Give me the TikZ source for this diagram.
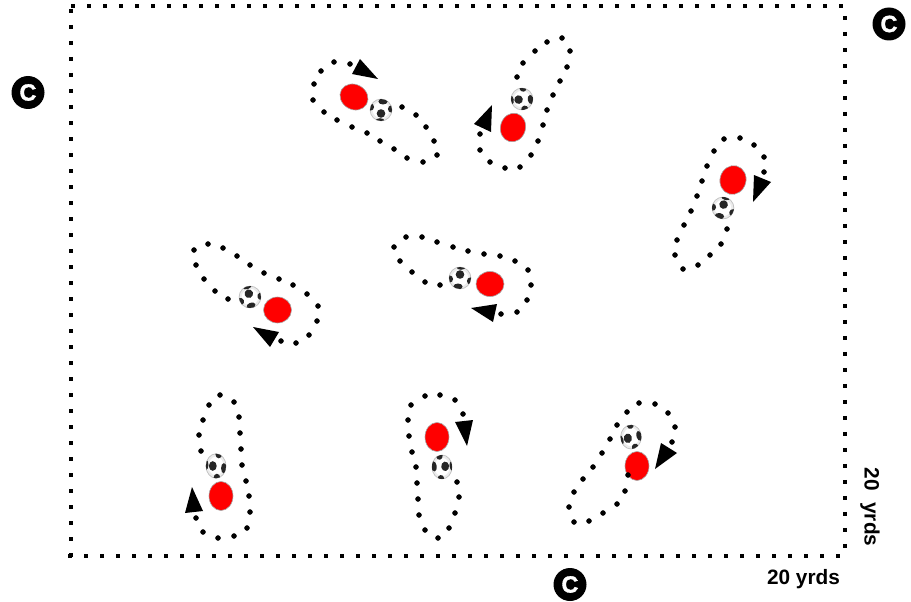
\documentclass[tikz,border=0pt]{standalone}
\usepackage{fontspec}
\setmainfont{Liberation Sans}
\usetikzlibrary{shapes.geometric}
\tikzset{
  fielddots/.style={line width=4pt, dash pattern=on 4pt off 12pt},
  rundots/.style={only marks, mark=*, mark size=2.5pt, mark options={fill=black, draw=none}},
  player/.style={draw=gray!70, line width=0.6pt, fill=red, ellipse, inner sep=0pt},
  coach/.style={circle, fill=black, text=white, minimum size=33pt, inner sep=0pt, font=\bfseries\fontsize{23.5}{24}\selectfont\addfontfeatures{FakeBold=1.5}},
  yards/.style={font=\bfseries\fontsize{20.8}{21}\selectfont, inner sep=0pt},
  soccerball/.pic={
    \fill[white] (0,0) circle (11);
    \draw[gray!15, line width=2.4pt] (0,0) circle (9.6);
    \draw[gray!50, line width=0.7pt] (0,0) circle (10.9);
    \begin{scope}[rotate=#1]
      \clip (0,0) circle (11);
      \fill[black!85] (0,3.5) circle (4.3);
      \fill[black!85] (2,-8.5) ellipse (4.6 and 3);
      \fill[black!85] (-10.5,-3) circle (3.6);
      \fill[black!85] (10.5,-1) circle (3.6);
      \fill[black!85] (-1,11) ellipse (4.6 and 2.8);
    \end{scope}
  }
}
\begin{document}
\begin{tikzpicture}[x=1pt, y=-1pt]
  \useasboundingbox (0,0) rectangle (911,602);

  % field
  \draw[fielddots] (71,5.8) -- (843,5.8);
  \draw[fielddots] (71,9) -- (71,558);
  \draw[fielddots] (68,555.8) -- (840,555.8);
  \draw[fielddots] (844.6,15.8) -- (844.6,548);

  % coaches
  \node[coach] (coachA) at (28,92.5) {C};
  \node[coach] (coachB) at (889,24) {C};
  \node[coach] (coachC) at (570,584.5) {C};

  % distances
  \node[yards] (widthlabel) at (803.5,579) {20 yrds};
  \node[yards, rotate=-90] (heightlabel) at (870,507) {20\ \ yrds};

  % players
  \node[player, minimum width=29pt, minimum height=25pt, rotate=-30] (playerA) at (354,97) {};
  \node[player, minimum width=25pt, minimum height=29pt, rotate=-15] (playerB) at (513,127.5) {};
  \node[player, minimum width=26pt, minimum height=29pt, rotate=-15] (playerC) at (733,180) {};
  \node[player, minimum width=28pt, minimum height=26pt] (playerD) at (277.5,310) {};
  \node[player, minimum width=28pt, minimum height=25pt] (playerE) at (490,284) {};
  \node[player, minimum width=24pt, minimum height=29pt] (playerF) at (221,496) {};
  \node[player, minimum width=24pt, minimum height=29pt] (playerG) at (437,437) {};
  \node[player, minimum width=24pt, minimum height=29pt] (playerH) at (637,466) {};

  % balls
  \pic (ballA) at (381,110) {soccerball=0};
  \pic (ballB) at (522,99) {soccerball=-80};
  \pic (ballC) at (723,208) {soccerball=170};
  \pic (ballD) at (250,297) {soccerball=200};
  \pic (ballE) at (460,278) {soccerball=180};
  \pic[xscale=0.92, yscale=1.12] (ballF) at (216,466) {soccerball=-90};
  \pic[xscale=0.92, yscale=1.1] (ballG) at (442,467) {soccerball=100};
  \pic[xscale=0.95, yscale=1.1] (ballH) at (631,437) {soccerball=-70};

  % runs
  \draw[rundots] plot coordinates {(350,64) (334,62) (321,71) (314,84) (313,100) (324,112) (337,120) (352,127) (367,133) (380,141) (394,149) (407,158) (423,162) (437,155) (434,141) (426,127) (416,115) (402,107)};
  \draw[rundots] plot coordinates {(517,77) (523,63) (535,51) (547,42) (562,38) (570,51) (567,67) (560,81) (553,95) (547,110) (543,125) (538,141) (531,155) (520,167) (505,168) (490,162) (480,150) (480,134)};
  \draw[rundots] plot coordinates {(764,172) (764,157) (754,145) (740,138) (724,139) (714,151) (707,166) (702,181) (697,196) (691,211) (684,225) (677,240) (675,255) (683,269) (698,265) (710,255) (721,244) (727,229)};
  \draw[rundots] plot coordinates {(228,299) (215,291) (204,279) (196,265) (194,250) (208,244) (223,248) (237,256) (250,265) (264,273) (279,279) (293,285) (307,294) (318,306) (317,321) (309,335) (296,343) (281,341)};
  \draw[rundots] plot coordinates {(440,285) (425,282) (412,272) (400,261) (394,247) (406,237) (422,237) (437,242) (453,247) (468,251) (484,254) (500,256) (515,261) (528,270) (531,285) (527,300) (517,312) (501,314)};
  \draw[rundots] plot coordinates {(201,451) (199,435) (203,420) (209,405) (220,395) (234,402) (239,417) (240,433) (241,449) (242,465) (246,481) (249,496) (250,512) (247,528) (234,536) (218,538) (203,532) (196,518)};
  \draw[rundots] plot coordinates {(463,414) (455,400) (440,395) (425,396) (411,405) (408,420) (409,436) (412,452) (416,467) (417,483) (418,499) (419,515) (425,530) (438,538) (449,528) (455,513) (459,497) (457,482)};
  \draw[rundots] plot coordinates {(672,442) (675,427) (668,413) (655,404) (639,403) (627,412) (617,425) (610,439) (602,453) (593,467) (583,479) (574,492) (569,507) (574,522) (589,521) (603,513) (617,504) (625,491) (628,475)};

  % directions
  \fill (360,59) -- (352,74) -- (378,79) -- cycle;
  \fill (492,105) -- (474,124) -- (491,132) -- cycle;
  \fill (754,175) -- (771,182) -- (753,202) -- cycle;
  \fill (253,327) -- (279,332) -- (270,347) -- cycle;
  \fill (471,308) -- (497,304) -- (493,322) -- cycle;
  \fill (192,487) -- (185,513) -- (203,511) -- cycle;
  \fill (455,422) -- (473,420) -- (467,446) -- cycle;
  \fill (661,443) -- (677,453) -- (655,469) -- cycle;
\end{tikzpicture}
\end{document}
